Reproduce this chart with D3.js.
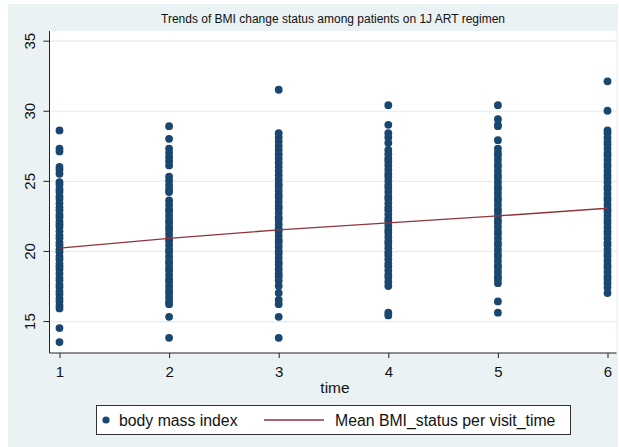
<!DOCTYPE html>
<html>
<head>
  <title>BMI trends</title>
  <script src="https://d3js.org/d3.v7.min.js"></script>
  <style>
    body { margin: 0; background: #fff; }
    text { font-family: "Liberation Sans", Arial, sans-serif; fill: #111; }
    .gridlines line { stroke: #e3ecef; stroke-width: 1.2; }
    .gridlines .domain { stroke: none; }
    .axis path, .axis line { stroke: #222; }
  </style>
</head>
<body>
<div id="chart"></div>
<script>
  const visits = [1, 2, 3, 4, 5, 6];
  const yTicks = [15, 20, 25, 30, 35];

  // BMI readings per visit
  const bmiVisit1 = [28.6, 27.3, 27.1, 26.0, 25.8, 25.5, 24.9, 24.7, 24.4, 24.2, 23.9, 23.7, 23.4, 23.1, 22.9, 22.6,
    22.4, 22.1, 21.9, 21.7, 21.4, 21.1, 20.9, 20.6, 20.4, 20.1, 19.9, 19.6, 19.4, 19.1, 18.9, 18.7, 18.4,
    18.1, 17.9, 17.6, 17.4, 17.1, 16.9, 16.6, 16.4, 16.1, 15.9, 14.5, 13.5];
  const bmiVisit2 = [28.9, 28.0, 27.3, 27.0, 26.7, 26.4, 26.1, 25.3, 25.0, 24.7, 24.4, 24.2, 23.6, 23.3, 23.0, 22.8,
    22.5, 22.2, 22.0, 21.7, 21.5, 21.2, 20.9, 20.7, 20.4, 20.1, 19.9, 19.6, 19.3, 19.1, 18.8, 18.6, 18.3,
    18.0, 17.8, 17.5, 17.2, 17.0, 16.7, 16.4, 16.2, 15.3, 13.8];
  const bmiVisit3 = [31.5, 28.4, 28.1, 27.8, 27.5, 27.2, 26.9, 26.6, 26.3, 26.0, 25.7, 25.4, 25.1, 24.8, 24.6, 24.3,
    24.0, 23.8, 23.5, 23.2, 23.0, 22.7, 22.4, 22.2, 21.9, 21.6, 21.4, 21.1, 20.8, 20.6, 20.3, 20.0, 19.8,
    19.5, 19.2, 19.0, 18.7, 18.4, 18.2, 17.9, 17.5, 17.0, 16.5, 16.2, 15.3, 13.8];
  const bmiVisit4 = [30.4, 29.0, 28.4, 28.1, 27.7, 27.2, 26.9, 26.6, 26.4, 26.1, 25.8, 25.5, 25.3, 25.0, 24.7, 24.5,
    24.2, 23.9, 23.7, 23.4, 23.1, 22.9, 22.6, 22.3, 22.1, 21.8, 21.5, 21.3, 21.0, 20.7, 20.5, 20.2, 19.9,
    19.7, 19.4, 19.1, 18.9, 18.6, 18.3, 18.1, 17.8, 17.5, 15.6, 15.4];
  const bmiVisit5 = [30.4, 29.4, 29.0, 28.9, 27.9, 27.3, 27.0, 26.8, 26.5, 26.2, 26.0, 25.7, 25.4, 25.2, 24.9, 24.6,
    24.4, 24.1, 23.8, 23.6, 23.3, 23.0, 22.8, 22.5, 22.2, 22.0, 21.7, 21.4, 21.2, 20.9, 20.6, 20.4, 20.1,
    19.8, 19.6, 19.3, 19.0, 18.8, 18.5, 18.2, 18.0, 17.7, 16.4, 15.6];
  const bmiVisit6 = [32.1, 30.0, 28.6, 28.4, 28.1, 27.8, 27.6, 27.3, 27.0, 26.8, 26.5, 26.2, 26.0, 25.7, 25.4, 25.2,
    24.9, 24.6, 24.4, 24.1, 23.8, 23.6, 23.3, 23.0, 22.8, 22.5, 22.2, 22.0, 21.7, 21.4, 21.2, 20.9, 20.6,
    20.4, 20.1, 19.8, 19.6, 19.3, 19.0, 18.8, 18.5, 18.2, 18.0, 17.7, 17.4, 17.0];
  const bmiByVisit = [bmiVisit1, bmiVisit2, bmiVisit3, bmiVisit4, bmiVisit5, bmiVisit6];

  // mean BMI per visit
  const meanBmi = [20.2, 20.9, 21.5, 22.0, 22.5, 23.05];

  const width = 619;
  const height = 447;
  const plot = { left: 49.5, right: 616.5, top: 31, bottom: 353 };

  const svg = d3.select("#chart")
    .append("svg")
    .attr("width", width)
    .attr("height", height);

  // light graph region
  svg.append("rect")
    .attr("x", 8).attr("y", 4)
    .attr("width", 610).attr("height", 443)
    .attr("fill", "#eaf2f3");

  svg.append("rect")
    .attr("x", plot.left).attr("y", plot.top)
    .attr("width", plot.right - plot.left).attr("height", plot.bottom - plot.top)
    .attr("fill", "#fff");

  const xScale = d3.scaleLinear()
    .domain([0.9088, 6.082])
    .range([plot.left, plot.right]);

  const yScale = d3.scaleLinear()
    .domain([12.72, 35.69])
    .range([plot.bottom, plot.top]);

  // gridlines
  svg.append("g")
    .attr("class", "gridlines")
    .attr("transform", `translate(${plot.left},0)`)
    .call(d3.axisLeft(yScale).tickValues(yTicks).tickSize(-(plot.right - plot.left)).tickFormat(""));

  // points
  bmiByVisit.forEach((values, i) => {
    values.forEach((v) => {
      svg.append("circle")
        .attr("cx", xScale(visits[i]))
        .attr("cy", yScale(v))
        .attr("r", 3.9)
        .attr("fill", "#1a476f");
    });
  });

  // mean line
  const line = d3.line()
    .x((d, i) => xScale(visits[i]))
    .y(d => yScale(d));

  svg.append("path")
    .datum(meanBmi)
    .attr("d", line)
    .attr("fill", "none")
    .attr("stroke", "#90353b")
    .attr("stroke-width", 1.4);

  // axes
  const yAxisGroup = svg.append("g")
    .attr("class", "axis")
    .attr("transform", `translate(${plot.left},0)`)
    .call(d3.axisLeft(yScale).tickValues(yTicks).tickSize(6).tickSizeOuter(0));

  yAxisGroup.selectAll(".tick text")
    .attr("transform", "rotate(-90)")
    .attr("x", 0)
    .attr("y", -19.5)
    .attr("dy", "0.35em")
    .attr("text-anchor", "middle")
    .style("font-size", "15px")
    .style("font-family", "'Liberation Sans', Arial, sans-serif");

  const xAxisGroup = svg.append("g")
    .attr("class", "axis")
    .attr("transform", `translate(0,${plot.bottom})`)
    .call(d3.axisBottom(xScale).tickValues(visits).tickFormat(d3.format("d"))
      .tickSize(5).tickPadding(8).tickSizeOuter(0));

  xAxisGroup.selectAll(".tick text")
    .style("font-size", "15px")
    .style("font-family", "'Liberation Sans', Arial, sans-serif");

  yAxisGroup.select(".domain").attr("d", `M0,${plot.top}V${plot.bottom}`);
  xAxisGroup.select(".domain").attr("d", `M${plot.left},0H${plot.right}`);

  // title and x label
  svg.append("text")
    .attr("x", 333)
    .attr("y", 23)
    .attr("text-anchor", "middle")
    .style("font-size", "12px")
    .text("Trends of BMI change status among patients on 1J ART regimen");

  svg.append("text")
    .attr("x", 335)
    .attr("y", 393)
    .attr("text-anchor", "middle")
    .style("font-size", "15.5px")
    .text("time");

  // legend
  const legend = svg.append("g");
  legend.append("rect")
    .attr("x", 96.5).attr("y", 405.5)
    .attr("width", 474).attr("height", 29)
    .attr("fill", "#fff")
    .attr("stroke", "#333");
  legend.append("circle")
    .attr("cx", 106).attr("cy", 420).attr("r", 3.6)
    .attr("fill", "#1a476f");
  legend.append("text")
    .attr("x", 119).attr("y", 420).attr("dy", "0.35em")
    .style("font-size", "15.8px")
    .text("body mass index");
  legend.append("line")
    .attr("x1", 264).attr("x2", 324)
    .attr("y1", 420).attr("y2", 420)
    .attr("stroke", "#90353b")
    .attr("stroke-width", 1.5);
  legend.append("text")
    .attr("x", 335).attr("y", 420).attr("dy", "0.35em")
    .style("font-size", "15.8px")
    .text("Mean BMI_status per visit_time");
</script>
</body>
</html>
